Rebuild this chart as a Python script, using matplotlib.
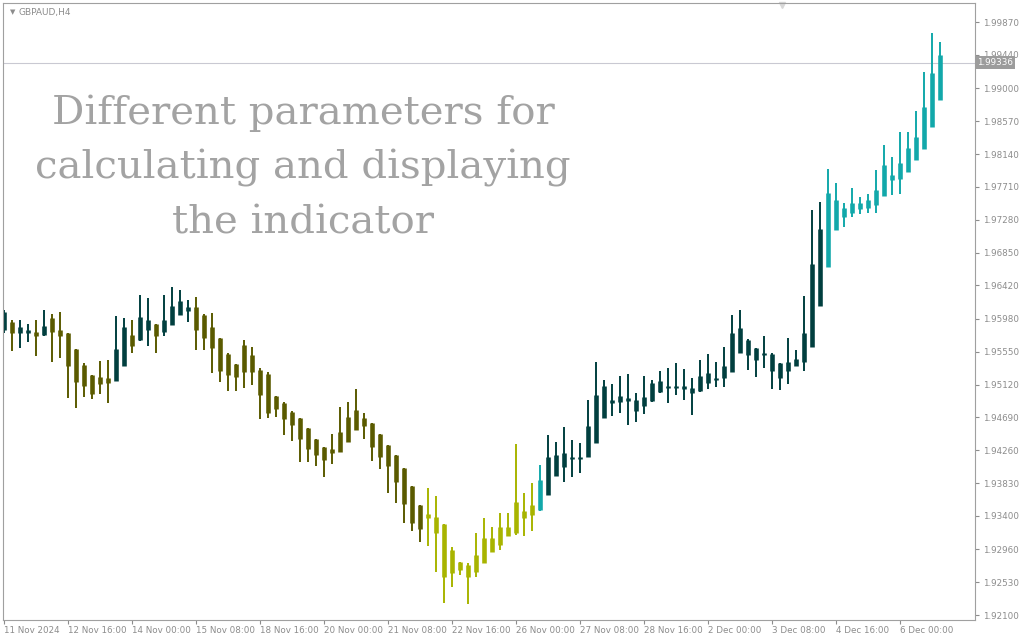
import matplotlib
matplotlib.use("Agg")
import matplotlib.pyplot as plt
import numpy as np

# GBPAUD H4, 11 Nov - 6 Dec 2024
HIGH = [1.9610, 1.9596, 1.9597, 1.9592, 1.9597, 1.9610, 1.9605, 1.9607, 1.9580, 1.9558,
        1.9540, 1.9524, 1.9543, 1.9544, 1.9602, 1.9599, 1.9596, 1.9629, 1.9625, 1.9592,
        1.9629, 1.9640, 1.9636, 1.9623, 1.9627, 1.9605, 1.9606, 1.9573, 1.9553, 1.9539,
        1.9570, 1.9561, 1.9534, 1.9529, 1.9497, 1.9489, 1.9477, 1.9468, 1.9455, 1.9441,
        1.9430, 1.9447, 1.9483, 1.9489, 1.9506, 1.9475, 1.9462, 1.9447, 1.9433, 1.9420,
        1.9403, 1.9379, 1.9354, 1.9376, 1.9366, 1.9329, 1.9299, 1.9280, 1.9278, 1.9318,
        1.9337, 1.9325, 1.9344, 1.9344, 1.9434, 1.9370, 1.9383, 1.9407, 1.9446, 1.9437,
        1.9456, 1.9439, 1.9435, 1.9492, 1.9541, 1.9518, 1.9513, 1.9523, 1.9526, 1.9501,
        1.9523, 1.9518, 1.9530, 1.9534, 1.9540, 1.9532, 1.9521, 1.9544, 1.9552, 1.9542,
        1.9561, 1.9603, 1.9610, 1.9572, 1.9560, 1.9576, 1.9553, 1.9540, 1.9573, 1.9557,
        1.9628, 1.9741, 1.9751, 1.9794, 1.9776, 1.9750, 1.9770, 1.9758, 1.9762, 1.9793,
        1.9826, 1.9810, 1.9843, 1.9843, 1.9870, 1.9922, 1.9972, 1.9961]
LOW = [1.9580, 1.9556, 1.9560, 1.9568, 1.9549, 1.9575, 1.9542, 1.9547, 1.9495, 1.9481,
       1.9496, 1.9493, 1.9500, 1.9488, 1.9517, 1.9536, 1.9554, 1.9569, 1.9563, 1.9554,
       1.9576, 1.9590, 1.9603, 1.9594, 1.9557, 1.9557, 1.9527, 1.9515, 1.9503, 1.9503,
       1.9507, 1.9511, 1.9467, 1.9468, 1.9470, 1.9446, 1.9438, 1.9411, 1.9411, 1.9405,
       1.9391, 1.9408, 1.9424, 1.9437, 1.9453, 1.9441, 1.9412, 1.9402, 1.9370, 1.9357,
       1.9331, 1.9320, 1.9306, 1.9301, 1.9266, 1.9226, 1.9247, 1.9263, 1.9225, 1.9260,
       1.9278, 1.9293, 1.9295, 1.9313, 1.9315, 1.9313, 1.9320, 1.9347, 1.9367, 1.9392,
       1.9384, 1.9391, 1.9396, 1.9417, 1.9435, 1.9468, 1.9471, 1.9475, 1.9459, 1.9463,
       1.9474, 1.9489, 1.9501, 1.9488, 1.9499, 1.9492, 1.9472, 1.9502, 1.9506, 1.9509,
       1.9509, 1.9529, 1.9553, 1.9531, 1.9522, 1.9534, 1.9506, 1.9505, 1.9513, 1.9536,
       1.9530, 1.9561, 1.9615, 1.9666, 1.9715, 1.9718, 1.9732, 1.9736, 1.9737, 1.9737,
       1.9759, 1.9761, 1.9762, 1.9791, 1.9806, 1.9821, 1.9849, 1.9885]
OPEN = [1.9584, 1.9594, 1.9579, 1.9579, 1.9581, 1.9577, 1.9599, 1.9584, 1.9579, 1.9558,
        1.9538, 1.9524, 1.9522, 1.9520, 1.9517, 1.9536, 1.9577, 1.9570, 1.9584, 1.9592,
        1.9581, 1.9590, 1.9603, 1.9609, 1.9613, 1.9603, 1.9588, 1.9573, 1.9552, 1.9539,
        1.9564, 1.9551, 1.9531, 1.9526, 1.9497, 1.9488, 1.9476, 1.9468, 1.9455, 1.9441,
        1.9430, 1.9428, 1.9450, 1.9470, 1.9479, 1.9468, 1.9462, 1.9447, 1.9433, 1.9420,
        1.9403, 1.9379, 1.9354, 1.9343, 1.9338, 1.9329, 1.9295, 1.9280, 1.9276, 1.9289,
        1.9311, 1.9311, 1.9325, 1.9325, 1.9358, 1.9346, 1.9354, 1.9348, 1.9367, 1.9392,
        1.9404, 1.9414, 1.9414, 1.9417, 1.9435, 1.9468, 1.9488, 1.9489, 1.9491, 1.9478,
        1.9484, 1.9491, 1.9502, 1.9508, 1.9508, 1.9506, 1.9501, 1.9504, 1.9514, 1.9518,
        1.9520, 1.9529, 1.9553, 1.9551, 1.9544, 1.9551, 1.9530, 1.9520, 1.9530, 1.9536,
        1.9542, 1.9561, 1.9615, 1.9666, 1.9715, 1.9732, 1.9737, 1.9742, 1.9743, 1.9747,
        1.9759, 1.9780, 1.9781, 1.9791, 1.9806, 1.9821, 1.9849, 1.9885]
CLOSE = [1.9607, 1.9580, 1.9588, 1.9583, 1.9575, 1.9589, 1.9581, 1.9575, 1.9536, 1.9515,
         1.9510, 1.9500, 1.9513, 1.9514, 1.9558, 1.9588, 1.9562, 1.9600, 1.9597, 1.9575,
         1.9597, 1.9615, 1.9622, 1.9613, 1.9584, 1.9573, 1.9560, 1.9530, 1.9524, 1.9522,
         1.9529, 1.9529, 1.9498, 1.9475, 1.9480, 1.9467, 1.9459, 1.9441, 1.9428, 1.9420,
         1.9413, 1.9422, 1.9424, 1.9437, 1.9453, 1.9458, 1.9430, 1.9417, 1.9405, 1.9385,
         1.9355, 1.9331, 1.9323, 1.9337, 1.9318, 1.9260, 1.9265, 1.9269, 1.9260, 1.9266,
         1.9278, 1.9293, 1.9302, 1.9313, 1.9317, 1.9337, 1.9341, 1.9387, 1.9417, 1.9420,
         1.9423, 1.9417, 1.9417, 1.9458, 1.9499, 1.9510, 1.9492, 1.9497, 1.9495, 1.9492,
         1.9496, 1.9514, 1.9517, 1.9510, 1.9510, 1.9510, 1.9508, 1.9523, 1.9527, 1.9520,
         1.9536, 1.9579, 1.9586, 1.9570, 1.9560, 1.9553, 1.9552, 1.9540, 1.9541, 1.9546,
         1.9580, 1.9670, 1.9716, 1.9763, 1.9754, 1.9743, 1.9750, 1.9750, 1.9754, 1.9767,
         1.9800, 1.9787, 1.9802, 1.9822, 1.9836, 1.9876, 1.9920, 1.9944]
# indicator state per bar: D = strong up, T = up, O = down, Y = weak down
STATE = list("DODDODOOOOOOOODDODDODDDD" + "O" * 29 + "Y" * 14 + "T" + "D" * 35 + "T" * 15)

PRICE_TICKS = [1.99870, 1.99440, 1.99000, 1.98570, 1.98140, 1.97710, 1.97280,
               1.96850, 1.96420, 1.95980, 1.95550, 1.95120, 1.94690, 1.94260,
               1.93830, 1.93400, 1.92960, 1.92530, 1.92100]
TIME_POS = [0, 8, 16, 24, 32, 40, 48, 56, 64, 72, 80, 88, 96, 104, 112]
TIME_LABELS = ["11 Nov 2024", "12 Nov 16:00", "14 Nov 00:00", "15 Nov 08:00",
               "18 Nov 16:00", "20 Nov 00:00", "21 Nov 08:00", "22 Nov 16:00",
               "26 Nov 00:00", "27 Nov 08:00", "28 Nov 16:00", "2 Dec 00:00",
               "3 Dec 08:00", "4 Dec 16:00", "6 Dec 00:00"]
LAST_PRICE = 1.99336

COLORS = {"D": "#013f3f", "T": "#12a8aa", "O": "#5a5a00", "Y": "#a8b400"}
GREY = "#8c8c8c"

fig = plt.figure(figsize=(10.24, 6.4), dpi=100)
ax = fig.add_axes([3 / 1024, 20 / 640, 972 / 1024, 617 / 640])

x = np.arange(len(HIGH))
cols = [COLORS[s] for s in STATE]
top = np.maximum(OPEN, CLOSE)
bot = np.minimum(OPEN, CLOSE)
bot = np.minimum(bot, top - 0.00012)
ax.vlines(x, LOW, HIGH, colors=cols, lw=1.4, capstyle="butt")
ax.vlines(x, bot, top, colors=cols, lw=3.3, capstyle="butt")

ax.axhline(LAST_PRICE, color="#c9c9d2", lw=0.8, zorder=0)

ax.set_xlim(-0.1, 121.4)
ax.set_ylim(1.92036, 2.00119)

ax.yaxis.tick_right()
ax.set_yticks(PRICE_TICKS)
ax.set_yticklabels([f"{v:.5f}" for v in PRICE_TICKS])
ax.set_xticks(TIME_POS)
ax.set_xticklabels(TIME_LABELS, ha="left")
ax.tick_params(axis="both", colors=GREY, labelcolor=GREY, labelsize=6.3,
               length=3, width=0.8, pad=2.5)
ax.tick_params(axis="x", pad=1.5)
for sp in ax.spines.values():
    sp.set_color("#a0a0a0")
    sp.set_linewidth(0.8)

ax.text(1.002, LAST_PRICE, f"{LAST_PRICE:.5f}", transform=ax.get_yaxis_transform(),
        ha="left", va="center", fontsize=6.3, color="white", zorder=5,
        bbox=dict(boxstyle="square,pad=0.25", fc="#9c9c9c", ec="none"))

# chart header and shift marker
ax.text(0.007, 0.99, "\u25bc", transform=ax.transAxes, fontsize=5, color=GREY,
        ha="left", va="top")
ax.text(0.016, 0.992, "GBPAUD,H4", transform=ax.transAxes, fontsize=6.5,
        color=GREY, ha="left", va="top")
ax.plot([0.8014], [0.996], marker="v", ms=5, color="#d8d8d8", transform=ax.transAxes,
        clip_on=False)

fig.text(303 / 1024, 1 - 168 / 640,
         "Different parameters for\ncalculating and displaying\nthe indicator",
         ha="center", va="center", fontsize=29, family="DejaVu Serif",
         color="#a3a3a3", linespacing=1.6)

fig.savefig("out.png", dpi=100)
